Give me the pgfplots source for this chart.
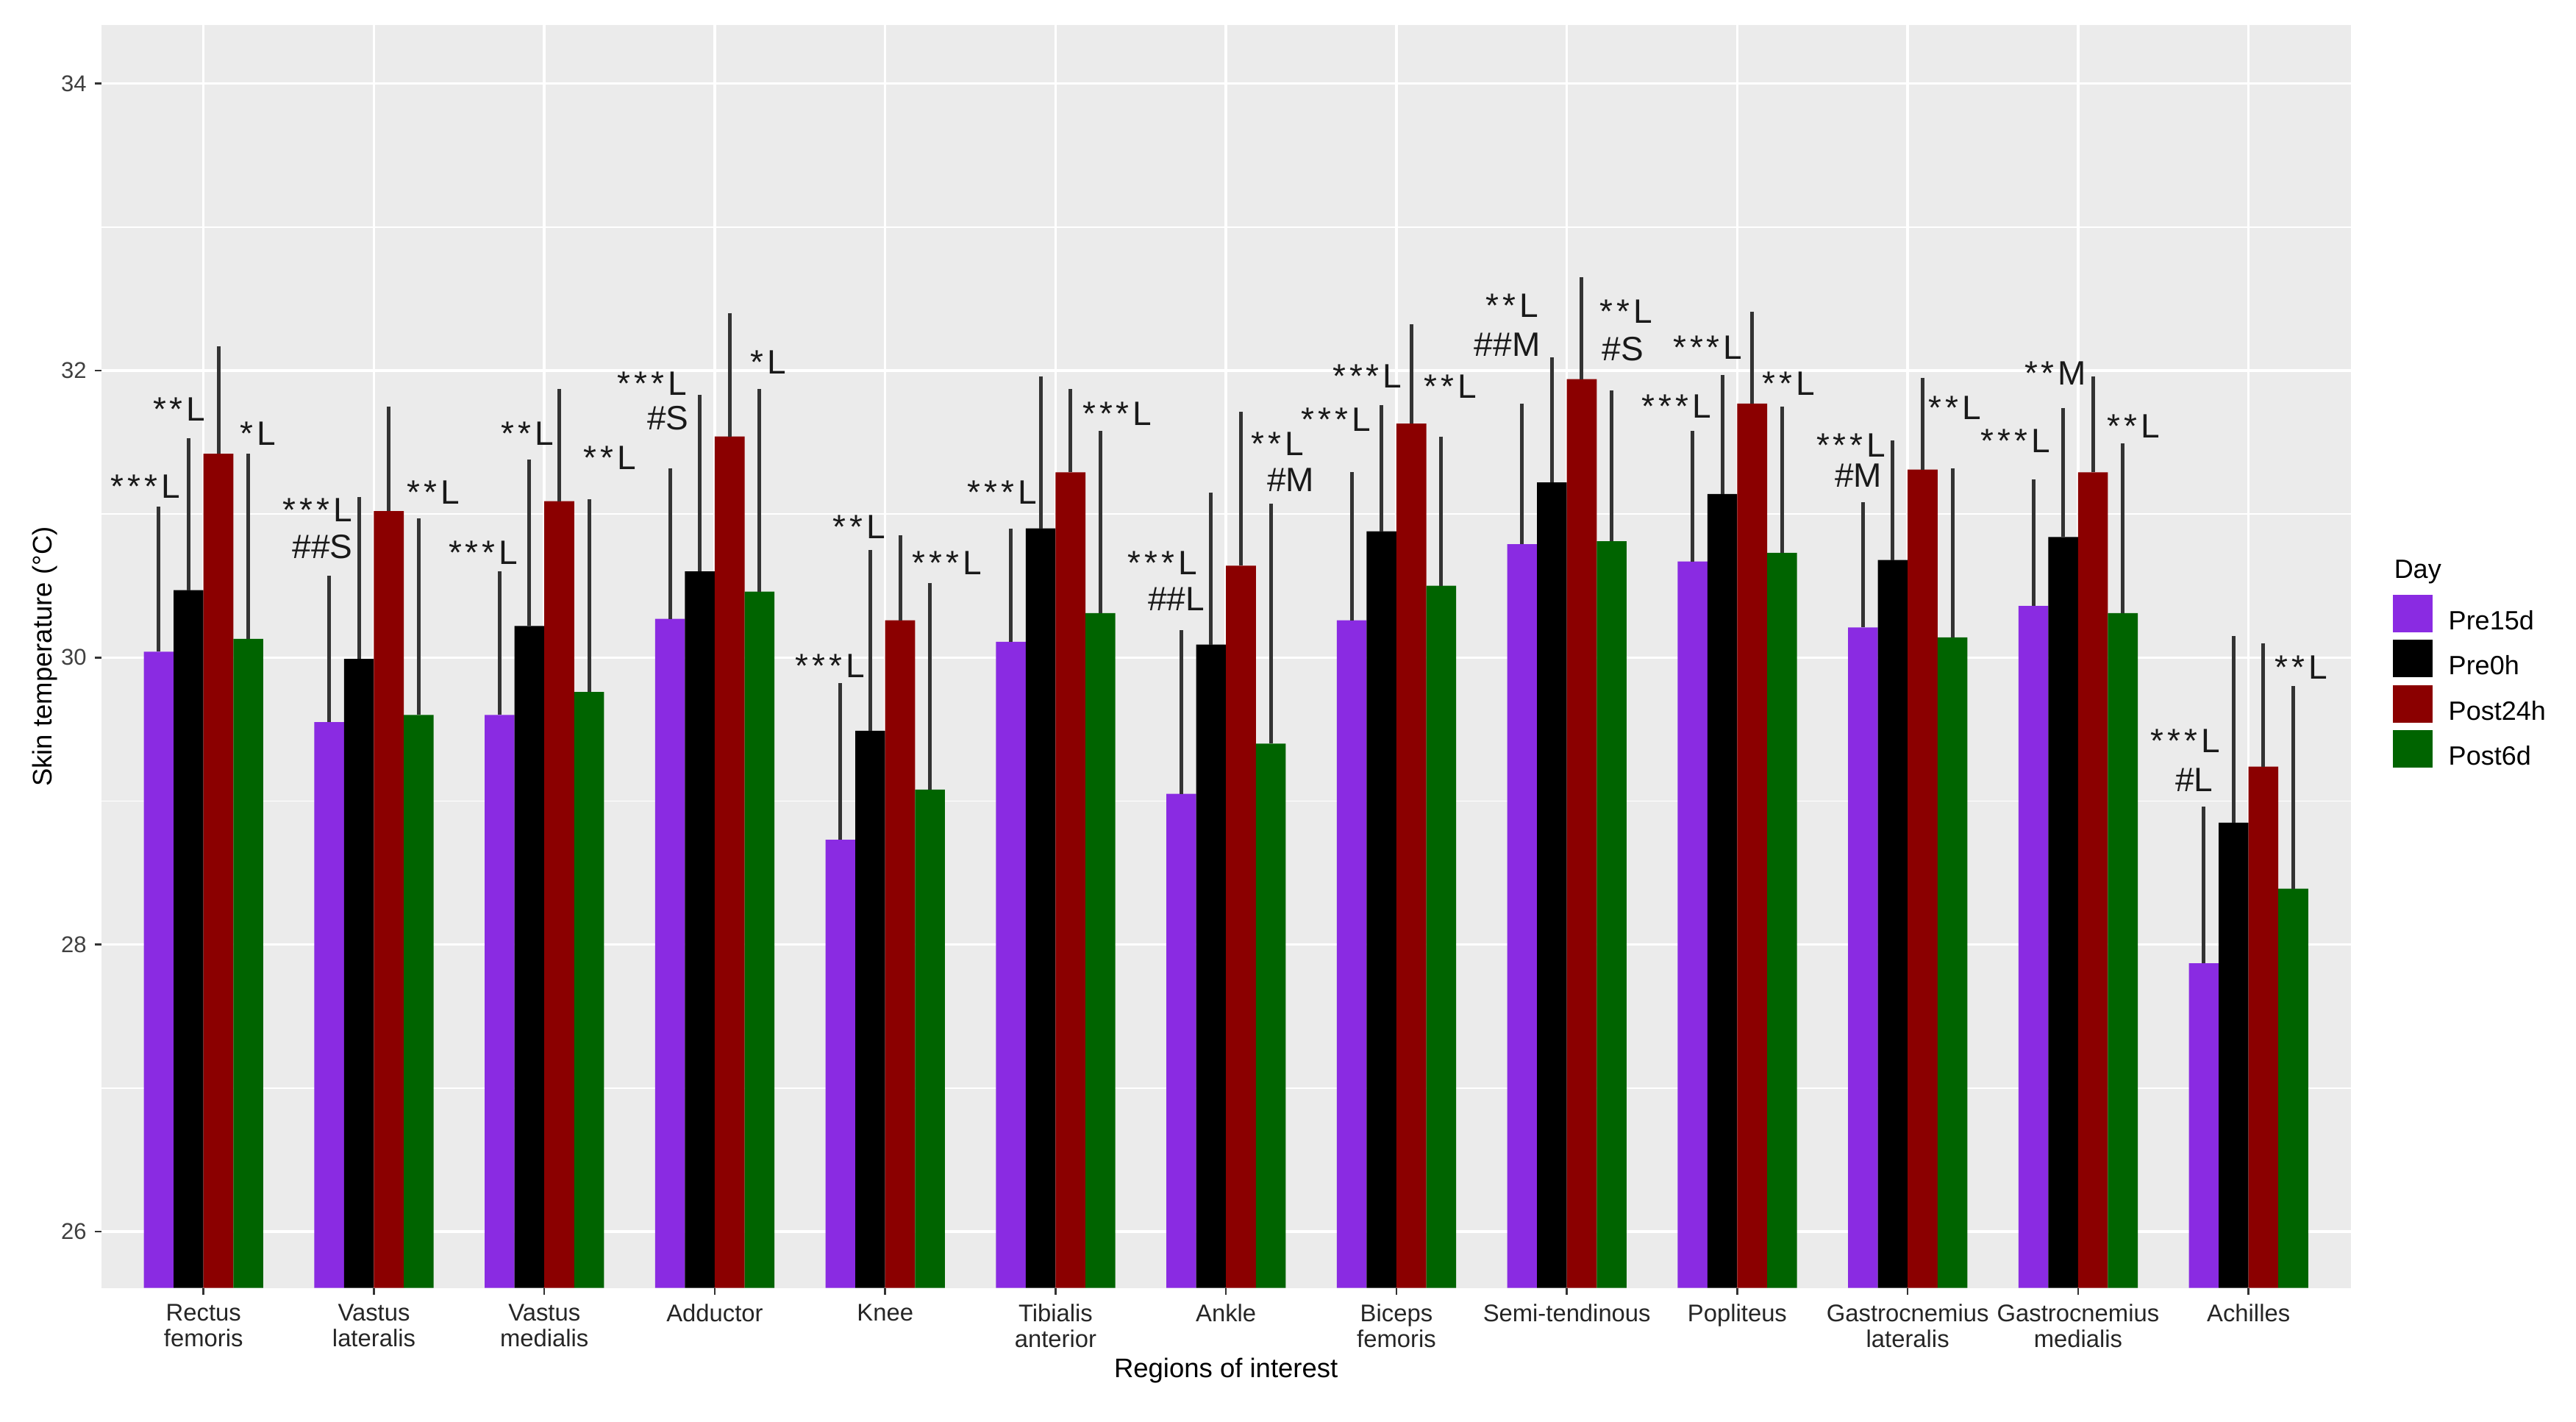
\documentclass[border=0pt]{standalone}
\usepackage{fontspec}
\setmainfont{Liberation Sans}
\usepackage{pgfplots}
\pgfplotsset{compat=1.18}
\usepackage{pgfplotstable}

\definecolor{cP}{HTML}{8A2BE2}
\definecolor{cB}{HTML}{000000}
\definecolor{cR}{HTML}{8B0000}
\definecolor{cG}{HTML}{006400}
\definecolor{panel}{HTML}{EBEBEB}
\definecolor{ebar}{HTML}{333333}

\pgfplotstableread{
x mP eP mB eB mR eR mG eG
1 30.04 0.99 30.47 1.04 31.42 0.73 30.13 1.27
2 29.55 1.00 29.99 1.11 31.02 0.71 29.60 1.35
3 29.60 0.98 30.22 1.14 31.09 0.76 29.76 1.32
4 30.27 1.03 30.60 1.21 31.54 0.84 30.46 1.39
5 28.73 1.07 29.49 1.24 30.26 0.57 29.08 1.42
6 30.11 0.77 30.90 1.04 31.29 0.56 30.31 1.25
7 29.05 1.12 30.09 1.04 30.64 1.05 29.40 1.65
8 30.26 1.01 30.88 0.86 31.63 0.67 30.50 1.02
9 30.79 0.96 31.22 0.85 31.94 0.69 30.81 1.03
10 30.67 0.89 31.14 0.81 31.77 0.62 30.73 1.00
11 30.21 0.85 30.68 0.81 31.31 0.62 30.14 1.16
12 30.36 0.86 30.84 0.88 31.29 0.65 30.31 1.16
13 27.87 1.07 28.85 1.28 29.24 0.84 28.39 1.39
}\data

\newcommand{\st}{*\kern0.11em}
\newcommand{\annfont}{\fontsize{9.2}{11}\selectfont}

\begin{document}
\begin{tikzpicture}
\useasboundingbox (-27.54pt,-36.48pt) rectangle (673.06pt,350.32pt);
\begin{axis}[
  at={(0pt,0pt)}, anchor=south west,
  scale only axis, width=611.8pt, height=343.42pt,
  xmin=0.4, xmax=13.6, ymin=25.608, ymax=34.405,
  axis background/.style={fill=panel},
  axis line style={draw=none},
  xtick={1,...,13},
  xticklabels={{Rectus\\femoris},{Vastus\\lateralis},{Vastus\\medialis},{Adductor},{Knee},{Tibialis\\anterior},{Ankle},{Biceps\\femoris},{Semi-tendinous},{Popliteus},{Gastrocnemius\\lateralis},{Gastrocnemius\\medialis},{Achilles}},
  ytick={26,28,30,32,34},
  minor ytick={27,29,31,33},
  xmajorgrids, ymajorgrids, yminorgrids,
  major grid style={white, line width=0.7pt},
  minor grid style={white, line width=0.35pt},
  tick align=outside,
  xtick pos=bottom, ytick pos=left,
  major tick length=1.8pt,
  minor tick length=0pt,
  tick style={color=black!80, line width=0.5pt},
  /pgf/number format/assume math mode=true,
  yticklabel style={font=\fontsize{6.2}{7}\selectfont, color=black!75, inner sep=0pt, xshift=-2pt},
  xticklabel style={font=\fontsize{6.56}{7}\selectfont, color=black!85, align=center, inner sep=0pt, yshift=-2.5pt},
  xlabel={Regions of interest},
  ylabel={Skin temperature (°C)},
  xlabel style={font=\fontsize{7.3}{8}\selectfont, at={(axis description cs:0.5,-0.07076)}, anchor=base},
  ylabel style={font=\fontsize{7.3}{8}\selectfont, at={(axis description cs:-0.02207,0.5)}, anchor=base},
  legend image code/.code={\fill[#1,/tikz/.cd,draw=none] (0pt,-2.5pt) rectangle (10.8pt,7.7pt);},
  legend style={at={(rel axis cs:1.0188,0.5492)}, anchor=north west, draw=none, fill=none,
    inner sep=0pt, outer sep=0pt, row sep=1.24pt, column sep=4.3pt,
    font=\fontsize{7.2}{8.6}\selectfont, nodes={inner sep=0pt}},
  legend cell align=left,
  eb/.style={error bars/.cd, y dir=plus, y explicit,
    error bar style={color=ebar, line width=1pt},
    error mark options={color=ebar, line width=1pt, mark size=0.8pt}},
]
\addplot[ybar, bar width=0.175, bar shift=0pt, fill=cP, draw=none, eb] table[x expr=\thisrow{x}-0.2625, y=mP, y error=eP]{\data};
\addlegendentry{Pre15d}
\addplot[ybar, bar width=0.175, bar shift=0pt, fill=cB, draw=none, eb] table[x expr=\thisrow{x}-0.0875, y=mB, y error=eB]{\data};
\addlegendentry{Pre0h}
\addplot[ybar, bar width=0.175, bar shift=0pt, fill=cR, draw=none, eb] table[x expr=\thisrow{x}+0.0875, y=mR, y error=eR]{\data};
\addlegendentry{Post24h}
\addplot[ybar, bar width=0.175, bar shift=0pt, fill=cG, draw=none, eb] table[x expr=\thisrow{x}+0.2625, y=mG, y error=eG]{\data};
\addlegendentry{Post6d}

\begin{scope}[every node/.style={font=\annfont, inner sep=0pt, anchor=center, text=black!90}]
\node at (axis cs:0.658,31.19) {\st\st\st L};
\node at (axis cs:0.858,31.73) {\st\st L};
\node at (axis cs:1.321,31.56) {\st L};
\node at (axis cs:1.669,31.03) {\st\st\st L};
\node at (axis cs:1.698,30.77) {\#\#S};
\node at (axis cs:2.347,31.15) {\st\st L};
\node at (axis cs:2.642,30.73) {\st\st\st L};
\node at (axis cs:2.901,31.56) {\st\st L};
\node at (axis cs:3.383,31.39) {\st\st L};
\node at (axis cs:3.632,31.91) {\st\st\st L};
\node at (axis cs:3.725,31.67) {\#S};
\node at (axis cs:4.316,32.06) {\st L};
\node at (axis cs:4.677,29.94) {\st\st\st L};
\node at (axis cs:4.849,30.91) {\st\st L};
\node at (axis cs:5.363,30.66) {\st\st\st L};
\node at (axis cs:5.686,31.15) {\st\st\st L};
\node at (axis cs:6.362,31.70) {\st\st\st L};
\node at (axis cs:6.626,30.66) {\st\st\st L};
\node at (axis cs:6.709,30.41) {\#\#L};
\node at (axis cs:7.304,31.49) {\st\st L};
\node at (axis cs:7.379,31.24) {\#M};
\node at (axis cs:7.647,31.66) {\st\st\st L};
\node at (axis cs:7.829,31.96) {\st\st\st L};
\node at (axis cs:8.317,31.89) {\st\st L};
\node at (axis cs:8.678,32.45) {\st\st L};
\node at (axis cs:8.650,32.18) {\#\#M};
\node at (axis cs:9.349,32.41) {\st\st L};
\node at (axis cs:9.329,32.15) {\#S};
\node at (axis cs:9.644,31.75) {\st\st\st L};
\node at (axis cs:9.827,32.16) {\st\st\st L};
\node at (axis cs:10.301,31.91) {\st\st L};
\node at (axis cs:10.668,31.48) {\st\st\st L};
\node at (axis cs:10.711,31.27) {\#M};
\node at (axis cs:11.277,31.74) {\st\st L};
\node at (axis cs:11.631,31.51) {\st\st\st L};
\node at (axis cs:11.867,31.98) {\st\st M};
\node at (axis cs:12.324,31.61) {\st\st L};
\node at (axis cs:12.631,29.42) {\st\st\st L};
\node at (axis cs:12.682,29.15) {\#L};
\node at (axis cs:13.309,29.93) {\st\st L};
\end{scope}
\end{axis}
\node[anchor=base west, font=\fontsize{7.2}{8.6}\selectfont, inner sep=0pt] at (623.4pt,193.1pt) {Day};
\end{tikzpicture}
\end{document}
